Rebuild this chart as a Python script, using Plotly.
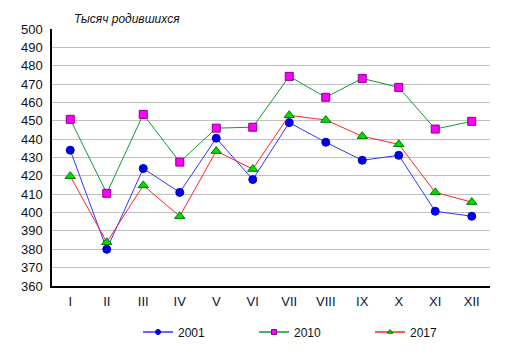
import plotly.graph_objects as go

months = ["I", "II", "III", "IV", "V", "VI", "VII", "VIII", "IX", "X", "XI", "XII"]
y2001 = [434, 380, 424, 411, 440.5, 418, 449, 438.3, 428.5, 431.2, 400.7, 398]
y2010 = [450.8, 410.5, 453.5, 427.5, 446, 446.5, 474.2, 462.8, 473.1, 468.2, 445.5, 449.7]
y2017 = [419.8, 383.8, 414.8, 398, 433.5, 423.7, 453, 450.4, 441.6, 437.2, 411, 405.7]
yticks = list(range(360, 501, 10))
names = ["2001", "2010", "2017"]

styles = [
    dict(line=dict(color="#3333ff", width=1),
         marker=dict(symbol="circle", size=8, color="#0000ee", line=dict(color="#0000bb", width=1))),
    dict(line=dict(color="#119933", width=1),
         marker=dict(symbol="square", size=8, color="#ff00ff", line=dict(color="#880088", width=1))),
    dict(line=dict(color="#ff2222", width=1),
         marker=dict(symbol="triangle-up", size=9, color="#00dd00", line=dict(color="#007700", width=1))),
]

fig = go.Figure()
for name, ys, st in zip(names, [y2001, y2010, y2017], styles):
    fig.add_trace(go.Scatter(x=months, y=ys, name=name, mode="lines+markers",
                             line=st["line"], marker=st["marker"], showlegend=False))
# legend-only entries with small markers
for name, st in zip(names, styles):
    m = dict(st["marker"])
    m["size"] = 5
    fig.add_trace(go.Scatter(x=[None], y=[None], name=name, mode="lines+markers",
                             line=dict(color=st["line"]["color"], width=1.5), marker=m,
                             showlegend=True))

W, H = 503, 350  # page body has an 8px margin
fig.update_layout(
    width=W, height=H,
    margin=dict(l=44, r=21, t=21, b=72, autoexpand=False),
    paper_bgcolor="white", plot_bgcolor="white",
    font=dict(family="Liberation Sans, Arial, sans-serif", size=13, color="#111111"),
    showlegend=True,
    legend=dict(orientation="h", xref="container", yref="container",
                x=130 / W, xanchor="left", y=(H - 324) / H, yanchor="middle",
                font=dict(size=12), entrywidth=71, entrywidthmode="pixels",
                bgcolor="rgba(0,0,0,0)"),
    xaxis=dict(type="category", showgrid=False, showline=True, linecolor="black",
               linewidth=1.5, ticks="", tickfont=dict(size=13, color="#111133"),
               ticklabelstandoff=3,
               range=[-0.5, 11.5], zeroline=False, automargin=False),
    yaxis=dict(range=[360, 500], tickvals=yticks, showgrid=True, gridcolor="#c0c0c0",
               gridwidth=1, showline=True, linecolor="black", linewidth=1.5, ticks="",
               tickfont=dict(size=13), ticklabelstandoff=5,
               zeroline=False, automargin=False),
    annotations=[dict(text="<i>Тысяч родившихся</i>", xref="paper", yref="paper",
                      x=(72 - 52) / 438, y=1, yshift=10, xanchor="left", yanchor="middle",
                      showarrow=False, font=dict(size=12, color="#111111"))],
)

fig.write_html("out.html")
